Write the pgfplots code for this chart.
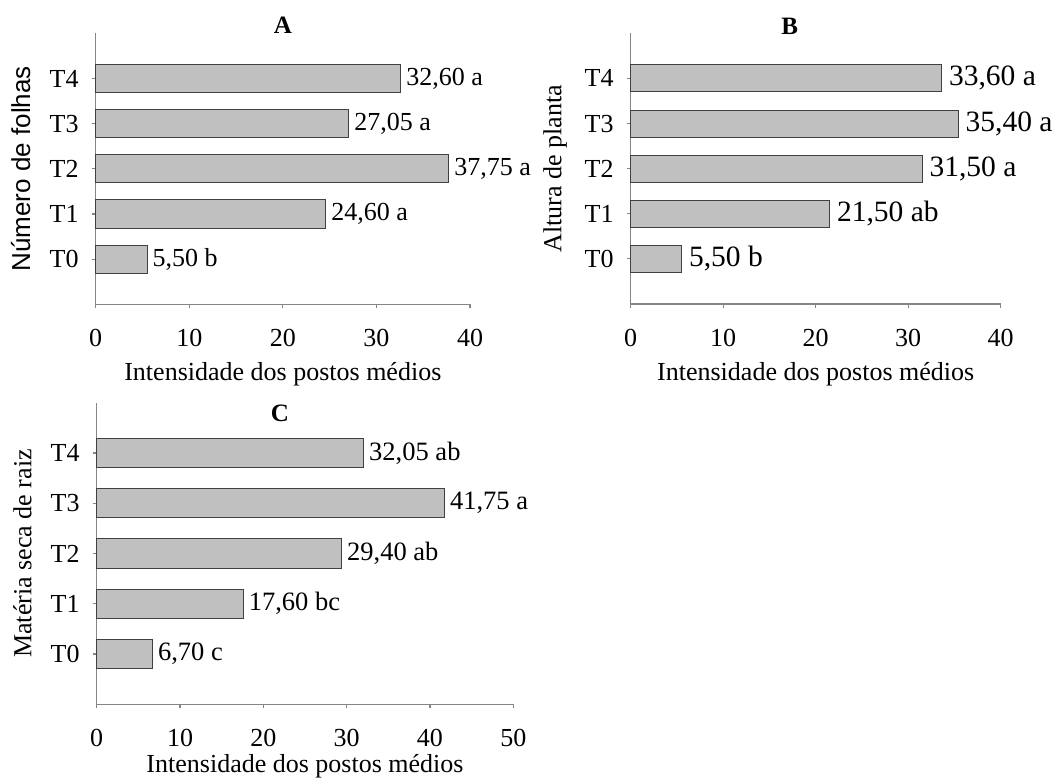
\documentclass[border=0pt]{standalone}
\usepackage{fontspec}
\setmainfont{Liberation Serif}
\newfontfamily\arialfont{Liberation Sans}
\usepackage{pgfplots}
\pgfplotsset{compat=1.18}
\definecolor{barfill}{HTML}{C0C0C0}
\definecolor{baredge}{HTML}{404040}
\definecolor{axisgray}{HTML}{868686}
\pgfplotsset{
 panel/.style={
  scale only axis, anchor=south west,
  axis lines=left, axis line style={-, draw=axisgray, line width=1.2pt},
  tick align=outside, major tick length=4pt,
  tick style={draw=axisgray, line width=1.2pt},
  ymin=-1, ymax=5, ytick={0,1,2,3,4}, yticklabels={T0,T1,T2,T3,T4},
  xmin=0, xtick distance=10,
  /pgf/number format/assume math mode=true,
  tick label style={font=\fontsize{26}{30}\selectfont},
  yticklabel style={anchor=east, inner sep=0pt, xshift=-13pt},
  xticklabel style={anchor=base, inner sep=0pt, yshift=-38pt},
  label style={font=\fontsize{26}{30}\selectfont},
  xlabel={Intensidade dos postos médios},
  xbar, clip=false,
  point meta=explicit symbolic,
  nodes near coords,
  every node near coord/.append style={anchor=west, inner sep=0pt, xshift=5pt, text=black},
 },
 barstyle/.style={fill=barfill, draw=baredge, line width=1pt},
}
\begin{document}
\begin{tikzpicture}
\path[use as bounding box] (0,0) rectangle (1056pt,780pt);
% Panel A
\begin{axis}[panel, at={(95.7pt,475.7pt)}, width=374.3pt, height=270.9pt,
  xmax=40, bar width=28pt,
  ylabel={\arialfont Número de folhas},
  ylabel style={at={(axis description cs:-0.2004,0.5)}, anchor=center},
  xlabel style={at={(axis description cs:0.5,-0.2805)}, anchor=base},
  every node near coord/.append style={font=\fontsize{26}{30}\selectfont}]
\addplot[barstyle] coordinates {
 (5.50,0) [{5,50 b}]
 (24.60,1) [{24,60 a}]
 (37.75,2) [{37,75 a}]
 (27.05,3) [{27,05 a}]
 (32.60,4) [{32,60 a}]
};
\node[font=\fontsize{25}{28}\selectfont\bfseries, anchor=base] at (axis description cs:0.5,1.0) {A};
\end{axis}
% Panel B
\begin{axis}[panel, at={(630.7pt,476pt)}, width=370pt, height=270.7pt,
  xmax=40, bar width=27pt,
  ylabel={Altura de planta},
  ylabel style={at={(axis description cs:-0.2046,0.5)}, anchor=center},
  xlabel style={at={(axis description cs:0.5,-0.2808)}, anchor=base},
  every node near coord/.append style={font=\fontsize{29.5}{33}\selectfont, xshift=2pt}]
\addplot[barstyle] coordinates {
 (5.50,0) [{5,50 b}]
 (21.50,1) [{21,50 ab}]
 (31.50,2) [{31,50 a}]
 (35.40,3) [{35,40 a}]
 (33.60,4) [{33,60 a}]
};
\node[font=\fontsize{25}{28}\selectfont\bfseries, anchor=base] at (axis description cs:0.43,0.994) {B};
\end{axis}
% Panel C
\begin{axis}[panel, at={(96.7pt,75.7pt)}, width=416.6pt, height=301.6pt,
  xmax=50, bar width=29.5pt,
  ylabel={Matéria seca de raiz},
  ylabel style={at={(axis description cs:-0.1783,0.5)}, anchor=center},
  xlabel style={at={(axis description cs:0.5,-0.226)}, anchor=base},
  every node near coord/.append style={font=\fontsize{26.5}{30}\selectfont}]
\addplot[barstyle] coordinates {
 (6.70,0) [{6,70 c}]
 (17.60,1) [{17,60 bc}]
 (29.40,2) [{29,40 ab}]
 (41.75,3) [{41,75 a}]
 (32.05,4) [{32,05 ab}]
};
\node[font=\fontsize{25}{28}\selectfont\bfseries, anchor=base] at (axis description cs:0.44,0.937) {C};
\end{axis}
\end{tikzpicture}
\end{document}
